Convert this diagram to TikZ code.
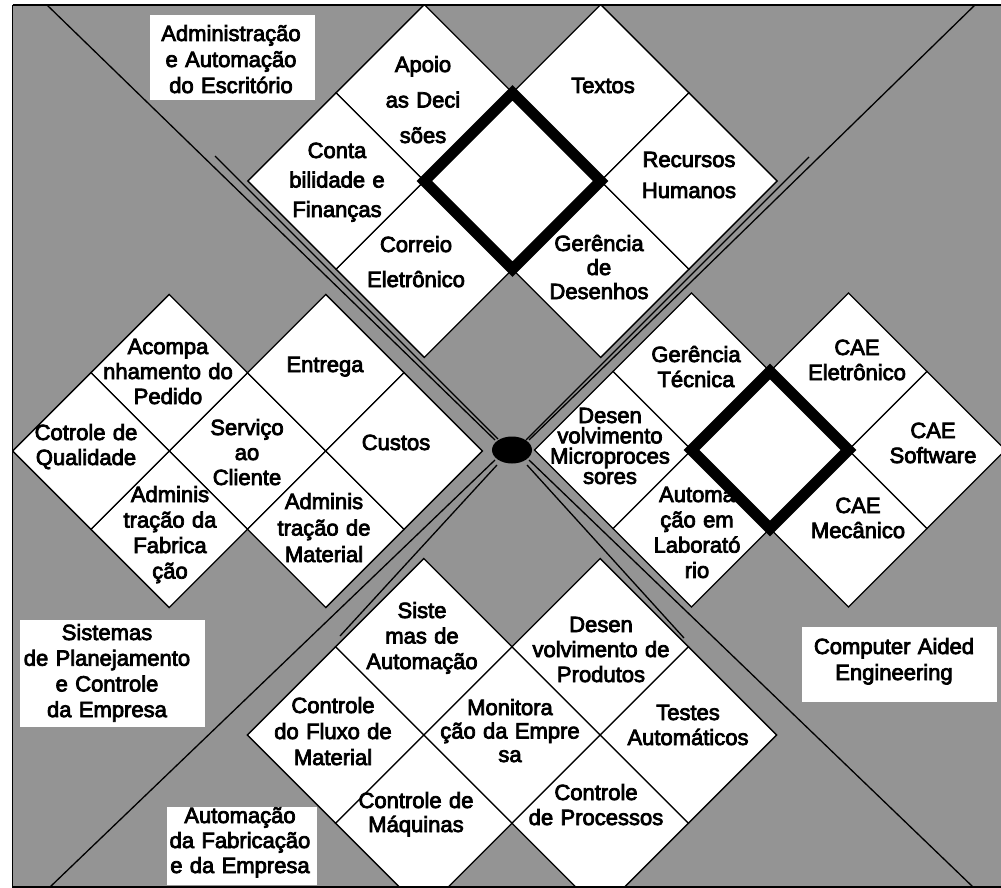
\documentclass[tikz,border=0pt]{standalone}
\usepackage{fontspec}
\setmainfont{Liberation Sans}[FakeBold=3.5,WordSpace=0.5]
\newcommand\dcell[3]{\path[cellbox] (#1,#2) ++(-#3,0) -- ++(#3,-#3) -- ++(#3,#3) -- ++(-#3,#3) -- cycle;}
\newcommand\dcluster[3]{%
  \dcell{#1}{#2}{#3}%
  \dcell{#1-#3}{#2-#3}{#3}\dcell{#1+#3}{#2-#3}{#3}%
  \dcell{#1-#3}{#2+#3}{#3}\dcell{#1+#3}{#2+#3}{#3}%
  \dcell{#1-2*#3}{#2}{#3}\dcell{#1+2*#3}{#2}{#3}}
\begin{document}
\begin{tikzpicture}[x=1pt,y=-1pt,
  cellbox/.style={draw=black,fill=white,line width=1.3pt,line join=miter},
  boldbox/.style={draw=black,line width=11pt,line join=miter},
  xline/.style={draw=black,line width=1.3pt},
  lbl/.style={anchor=base,align=center,text width=230pt,inner sep=0pt,font=\fontsize{22}{#1}\selectfont},
  lbl/.default=25,
  tagbox/.style={fill=white,draw=none}]
\useasboundingbox (0,0) rectangle (1001,888);
\begin{scope}
\clip (12.5,5) rectangle (1001,887);
\fill[black!42] (12.5,5) rectangle (1001,887);
% X lines from the corners to the centre
\coordinate (tl) at (47,5);
\coordinate (tr) at (977,3);
\coordinate (bl) at (50,887);
\coordinate (br) at (973,887);
\coordinate (ctl) at (495,440);
\coordinate (ctr) at (529,440);
\coordinate (cbl) at (495,460);
\coordinate (cbr) at (529,460);
\draw[xline] (tl) -- (ctl);
\draw[xline] (tr) -- (ctr);
\draw[xline] (bl) -- (cbl);
\draw[xline] (br) -- (cbr);
% second lines of the bands near the centre
\coordinate (b1a) at (215,156); \coordinate (b1b) at (498,439);
\coordinate (b2a) at (809,157); \coordinate (b2b) at (526,440);
\coordinate (b3a) at (340,636); \coordinate (b3b) at (497,465);
\coordinate (b4a) at (684,638); \coordinate (b4b) at (527,465);
\draw[xline] (b1a) -- (b1b);
\draw[xline] (b2a) -- (b2b);
\draw[xline] (b3a) -- (b3b);
\draw[xline] (b4a) -- (b4b);
% clusters
\dcluster{512.5}{181}{88.2}
\dcluster{247.5}{451}{78.3}
\dcluster{770}{450}{78.5}
\dcluster{512}{735}{88.2}
\end{scope}
% label boxes
\fill[tagbox] (150,15) rectangle (315,100);
\fill[tagbox] (20,620) rectangle (205,727);
\fill[tagbox] (167,807) rectangle (317,885);
\fill[tagbox] (802,627) rectangle (997,702);
\node[lbl=26] (admin) at (231,41) {Administração\\e Automação\\do Escritório};
\node[lbl=25.7] (planej) at (107,640) {Sistemas\\de Planejamento\\e Controle\\da Empresa};
\node[lbl=25] (autfab) at (240,823) {Automação\\da Fabricação\\e da Empresa};
\node[lbl=26] (cae) at (894,654) {Computer Aided\\Engineering};
% top cluster
\node[lbl=35.5] (apoio) at (423,72) {Apoio\\as Deci\\sões};
\node[lbl] (textos) at (603,93) {Textos};
\node[lbl=29.5] (conta) at (337,158) {Conta\\bilidade e\\Finanças};
\node[lbl=31] (recursos) at (689,167) {Recursos\\Humanos};
\node[lbl=35] (correio) at (416,252) {Correio\\Eletrônico};
\node[lbl=24] (gerdes) at (599,251) {Gerência\\de\\Desenhos};
% left cluster
\node[lbl=25] (acomp) at (168,354) {Acompa\\nhamento do\\Pedido};
\node[lbl] (entrega) at (325,372) {Entrega};
\node[lbl=25] (cotrole) at (86,440) {Cotrole de\\Qualidade};
\node[lbl=25] (servico) at (247,435) {Serviço\\ao\\Cliente};
\node[lbl] (custos) at (396,450) {Custos};
\node[lbl=25.5] (admfab) at (170,502) {Adminis\\tração da\\Fabrica\\ção};
\node[lbl=26.5] (admmat) at (324,509) {Adminis\\tração de\\Material};
% right cluster
\node[lbl=25] (gertec) at (696,362) {Gerência\\Técnica};
\node[lbl=25] (caeel) at (857,355) {CAE\\Eletrônico};
\node[lbl=20.3] (desmic) at (610,423) {Desen\\volvimento\\Microproces\\sores};
\node[lbl=25] (caesw) at (933,438) {CAE\\Software};
\node[lbl=25.3] (autlab) at (697,502) {Automa\\ção em\\Laborató\\rio};
\node[lbl=25] (caemec) at (858,513) {CAE\\Mecânico};
% bottom cluster
\node[lbl=25.5] (siste) at (422,618) {Siste\\mas de\\Automação};
\node[lbl=25] (desprod) at (601,632) {Desen\\volvimento de\\Produtos};
\node[lbl=26] (fluxo) at (333,713) {Controle\\do Fluxo de\\Material};
\node[lbl=23.5] (monit) at (510,715) {Monitora\\ção da Empre\\sa};
\node[lbl=25] (testes) at (688,720) {Testes\\Automáticos};
\node[lbl=24] (maq) at (416,808) {Controle de\\Máquinas};
\node[lbl=25] (proc) at (596,800) {Controle\\de Processos};
% bold squares and centre dot
\path[boldbox] (512.5,181) ++(-88.2,0) -- ++(88.2,-88.2) -- ++(88.2,88.2) -- ++(-88.2,88.2) -- cycle;
\path[boldbox] (770,450) ++(-78.5,0) -- ++(78.5,-78.5) -- ++(78.5,78.5) -- ++(-78.5,78.5) -- cycle;
\fill[black] (512,450) ellipse [x radius=20, y radius=13.5];
% frame
\draw[line width=1.3pt] (12.5,5) -- (1001,5);
\draw[line width=1.3pt] (12.5,5) -- (12.5,887) -- (1001,887);
\end{tikzpicture}
\end{document}
